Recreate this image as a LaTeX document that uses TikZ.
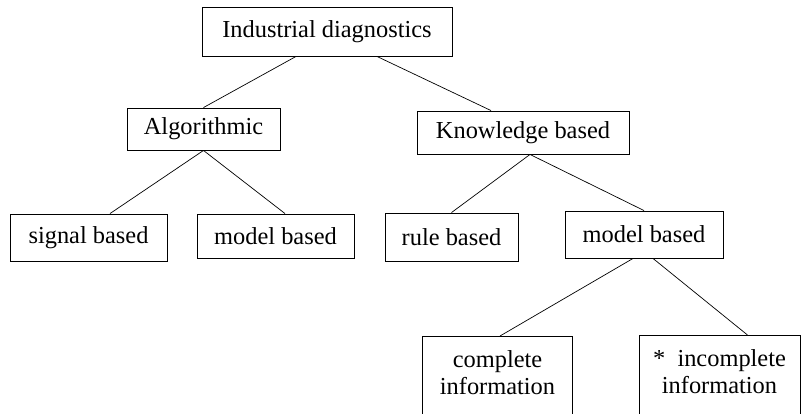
\documentclass[tikz,border=0pt]{standalone}
\usepackage{fontspec}
\setmainfont{Liberation Serif}
\usetikzlibrary{positioning, calc}

\begin{document}
\begin{tikzpicture}[x=1pt, y=-1pt,
        box/.style={draw, line width=0.9pt, inner sep=0pt, font=\fontsize{24.4}{27}\selectfont},
        leaf/.style={box, anchor=north, align=center, inner ysep=14pt, text depth=40pt},
        link/.style={line width=0.7pt}]
        \clip (0,0) rectangle (806,413);

        \node[box, minimum width=250pt, minimum height=49pt] (diag) at (327,31.5) {Industrial diagnostics};
        \node[box, minimum width=153pt, minimum height=42pt] (algo) at (203.5,129) {Algorithmic};
        \node[box, minimum width=212pt, minimum height=43pt] (know) at (523,132.5) {Knowledge based};
        \node[box, minimum width=157pt, minimum height=47pt] (signal) at (88.5,237.5) {signal based};
        \node[box, minimum width=157pt, minimum height=44pt] (amodel) at (275.5,236) {model based};
        \node[box, minimum width=133pt, minimum height=48pt] (rule) at (451.5,237) {rule based};
        \node[box, minimum width=158pt, minimum height=47pt] (kmodel) at (644,234.5) {model based};
        \node[leaf, minimum width=150pt] (complete) at (497.5,336) {complete\\information};
        \node[leaf, minimum width=161pt] (incomplete) at (719.5,335) {*~~incomplete\\information};

        \draw[link]
            ([xshift=-31pt]diag.south) -- (algo.north)
            ([xshift=50pt]diag.south) -- ([xshift=-32pt]know.north)
            (algo.south) -- ([xshift=21.5pt]signal.north)
            (algo.south) -- ([xshift=9.5pt]amodel.north)
            ([xshift=7pt]know.south) -- (rule.north)
            ([xshift=7pt]know.south) -- (kmodel.north)
            ([xshift=-11pt]kmodel.south) -- ([xshift=2.5pt]complete.north)
            ([xshift=9pt]kmodel.south) -- ([xshift=28pt]incomplete.north);
\end{tikzpicture}
\end{document}
